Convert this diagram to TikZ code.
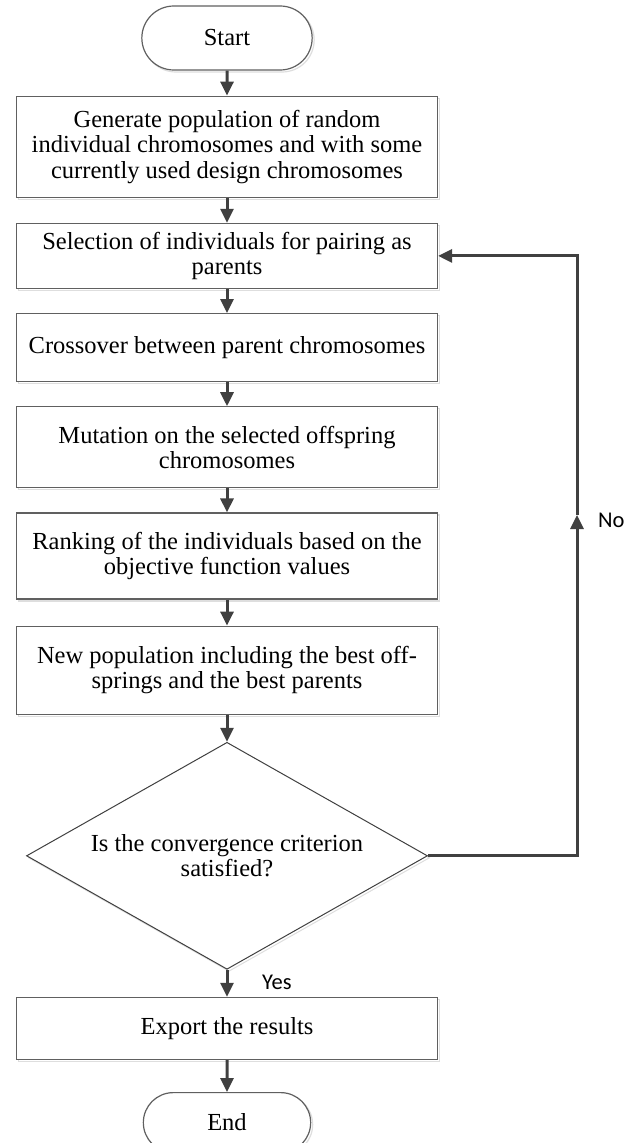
\documentclass[tikz,border=0pt]{standalone}
\usepackage{fontspec}
\setmainfont{Liberation Serif}
\newfontfamily\labelfont{Carlito}
\usepackage{tikz}
\usetikzlibrary{shapes,arrows,arrows.meta,positioning,shadows}
\definecolor{edgegray}{RGB}{64, 64, 64}
\definecolor{boxgray}{RGB}{96, 96, 96}
\definecolor{shadowgray}{RGB}{222, 222, 222}
\tikzstyle{terminal} = [rounded rectangle, draw=boxgray, line width=1.2pt, fill=white, text=black, text centered, font=\fontsize{24.5}{25.5}\selectfont, minimum width=177pt, minimum height=64pt, copy shadow={shadow xshift=2pt, shadow yshift=-2pt, draw=shadowgray, fill=white}]
\tikzstyle{process} = [rectangle, draw=boxgray, line width=1.2pt, fill=white, text=black, align=center, font=\fontsize{24.5}{25.5}\selectfont, minimum width=421pt, inner sep=0pt, copy shadow={shadow xshift=2pt, shadow yshift=-2pt, draw=shadowgray, fill=white}]
\tikzstyle{decision} = [diamond, aspect=1.77, draw=edgegray, line width=1pt, fill=white, text=black, align=center, font=\fontsize{24.5}{25.5}\selectfont, minimum width=401pt, minimum height=227pt, inner sep=0pt, copy shadow={shadow xshift=2pt, shadow yshift=-2pt, draw=shadowgray, fill=white}]
\tikzstyle{textonly} = [draw=none, fill=none, inner sep=0pt, font=\labelfont\fontsize{22.5}{24}\selectfont]
\tikzstyle{tedge} = [draw=edgegray, line width=3pt, >={Triangle[length=14pt, width=13pt]}, ->]

\begin{document}
\begin{tikzpicture}[x=1pt, y=-1pt]

\useasboundingbox (0,0) rectangle (636,1143);

% steps =============================

\node[terminal] (start) at (227,38) {Start};
\node[process, minimum height=101pt, below=25pt of start] (gen) {Generate population of random\\individual chromosomes and with some\\currently used design chromosomes};
\node[process, minimum height=65pt, below=25pt of gen] (sel) {Selection of individuals for pairing as\\parents};
\node[process, minimum height=68pt, below=24pt of sel] (cross) {Crossover between parent chromosomes};
\node[process, minimum height=81pt, below=24pt of cross] (mut) {Mutation on the selected offspring\\chromosomes};
\node[process, minimum height=86pt, below=24pt of mut] (rank) {Ranking of the individuals based on the\\objective function values};
\node[process, minimum height=88pt, below=26pt of rank] (newpop) {New population including the best off-\\springs and the best parents};

% test
\node[decision, below=27pt of newpop] (conv) {Is the convergence criterion\\satisfied?};

% end
\node[process, minimum height=62pt, below=27pt of conv] (export) {Export the results};
\node[terminal, minimum height=60pt, minimum width=174pt, below=32pt of export] (stop) {End};

% loop back
\coordinate (noarr) at (577,515);
\node[textonly, right=21pt of noarr, yshift=-5pt] (no) {No};
\node[textonly, below right=5pt and 35pt of conv.south] (yes) {Yes};

%edges
\path[tedge] (start) -- (gen);
\path[tedge] (gen) -- (sel);
\path[tedge] (sel) -- (cross);
\path[tedge] (cross) -- (mut);
\path[tedge] (mut) -- (rank);
\path[tedge] (rank) -- (newpop);
\path[tedge] (newpop) -- (conv);
\path[tedge] (conv) -- (export);
\path[tedge] (export) -- (stop);

%edges loop
\path[tedge] (conv.east) -| (noarr);
\path[tedge] (noarr) |- (sel.east);

\end{tikzpicture}
\end{document}
